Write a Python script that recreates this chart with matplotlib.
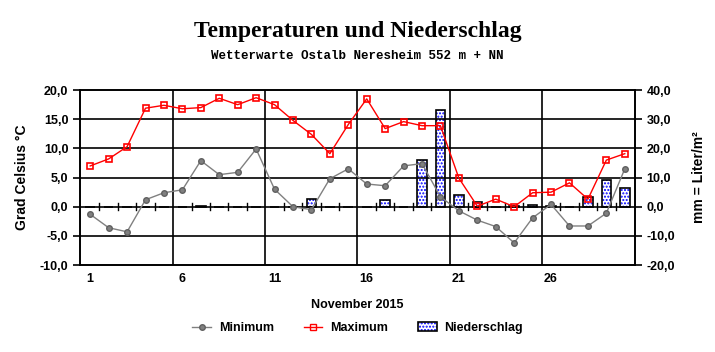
import numpy as np
import matplotlib
matplotlib.use("Agg")
import matplotlib.pyplot as plt
from matplotlib.lines import Line2D
from matplotlib.patches import Patch
from matplotlib.ticker import FuncFormatter

days = list(range(1, 31))
t_max = [7.0, 8.2, 10.3, 16.9, 17.4, 16.8, 17.0, 18.6, 17.5, 18.7,
         17.5, 14.8, 12.4, 9.1, 14.1, 18.5, 13.4, 14.6, 13.9, 13.9,
         4.9, 0.1, 1.3, 0.0, 2.4, 2.5, 4.1, 1.3, 8.0, 9.1]
t_min = [-1.3, -3.6, -4.3, 1.2, 2.4, 2.9, 7.9, 5.5, 5.9, 9.9,
         3.0, 0.0, -0.5, 4.8, 6.5, 3.9, 3.6, 7.0, 7.4, 1.7,
         -0.7, -2.3, -3.4, -6.2, -1.9, 0.4, -3.3, -3.3, -1.1, 6.5]
rain = [0, 0, 0, 0, 0, 0, 0.2, 0, 0, 0,
        0, 0, 2.8, 0, 0, 0, 2.3, 0, 16.1, 33.3,
        4.0, 1.6, 0, 0.1, 0.6, 0.4, 0, 3.3, 9.0, 6.4]
xtick_days = [1, 6, 11, 16, 21, 26]

plt.rcParams['font.family'] = ['Liberation Sans', 'DejaVu Sans']
plt.rcParams['font.weight'] = 'bold'
plt.rcParams['hatch.linewidth'] = 1.0

fig = plt.figure(figsize=(7.15, 3.52), dpi=100)
ax = fig.add_axes([0.112, 0.247, 0.776, 0.497])
ax2 = ax.twinx()

comma = FuncFormatter(lambda v, p: f"{v:.1f}".replace('.', ','))

# precipitation bars on right axis
ax2.bar(days, rain, width=0.52, color='white', edgecolor='#0000ff',
        hatch='.....', linewidth=0, zorder=1)
ax2.bar(days, rain, width=0.52, fill=False, edgecolor='black',
        linewidth=1.2, zorder=2)
ax2.set_ylim(-20, 40)
ax2.set_yticks(np.arange(-20, 41, 10))
ax2.yaxis.set_major_formatter(comma)
ax2.set_ylabel('mm = Liter/m²', fontsize=10, fontweight='bold', labelpad=12)

ax.set_zorder(ax2.get_zorder() + 1)
ax.patch.set_visible(False)

ax.plot(days, t_min, color='#808080', lw=1, marker='o', ms=4,
        mfc='#808080', mec='#606060', zorder=4)
ax.plot(days, t_max, color='red', lw=1, marker='s', ms=4.5,
        mfc='none', mec='red', mew=1.2, zorder=5)

ax.set_xlim(0.45, 30.55)
ax.set_ylim(-10, 20)
ax.set_yticks(np.arange(-10, 21, 5))
ax.yaxis.set_major_formatter(comma)
ax.set_xticks(xtick_days)
ax.tick_params(axis='x', length=0, pad=6, labelsize=9)
ax.tick_params(axis='y', length=5, width=1.2, labelsize=9)
ax2.tick_params(axis='y', length=5, width=1.2, labelsize=9)

for y in np.arange(-5, 20, 5):
    ax.axhline(y, color='black', lw=1.2, zorder=0)
for x in [5.5, 10.5, 15.5, 20.5, 25.5]:
    ax.axvline(x, color='black', lw=1.2, zorder=0)
# small ticks on zero line
for x in np.arange(1.5, 30, 1):
    if x % 5 != 0.5:
        ax.plot([x, x], [-0.6, 0.6], color='black', lw=1, zorder=1)

for a in (ax, ax2):
    for s in a.spines.values():
        s.set_linewidth(1.2)

ax.set_ylabel('Grad Celsius °C', fontsize=10, fontweight='bold', labelpad=8)
ax.set_xlabel('November 2015', fontsize=9, fontweight='bold', labelpad=10)

fig.text(0.5, 0.91, 'Temperaturen und Niederschlag', ha='center',
         va='center', fontsize=17, fontweight='bold', family='Liberation Serif')
fig.text(0.5, 0.84, 'Wetterwarte Ostalb Neresheim 552 m + NN', ha='center',
         va='center', fontsize=9, fontweight='bold', family='Liberation Mono')

rain_handle = (Patch(facecolor='white', edgecolor='#0000ff', hatch='.....', linewidth=0),
               Patch(fill=False, edgecolor='black', linewidth=1.2))
handles = [
    Line2D([], [], color='#808080', lw=1, marker='o', ms=4, mfc='#808080', mec='#606060'),
    Line2D([], [], color='red', lw=1, marker='s', ms=4, mfc='none', mec='red'),
    rain_handle,
]
fig.legend(handles, ['Minimum', 'Maximum', 'Niederschlag'], loc='center',
           bbox_to_anchor=(0.5, 0.068), ncol=3, frameon=False,
           fontsize=9, handlelength=1.5, columnspacing=2.4, handletextpad=0.6)

fig.savefig('out.png', dpi=100)
